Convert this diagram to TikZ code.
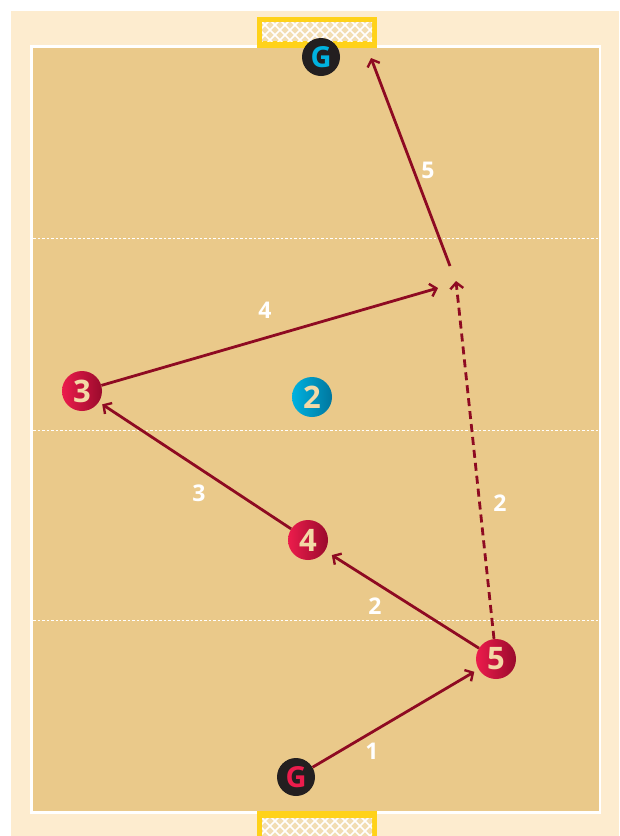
\documentclass[tikz,border=0pt]{standalone}
\usepackage{fontspec}
\setmainfont{Open Sans}
\usetikzlibrary{arrows.meta,positioning,calc}
\definecolor{cream}{HTML}{FDECCF}
\definecolor{court}{HTML}{EAC98A}
\definecolor{netBg}{HTML}{F2DDB2}
\definecolor{goalYel}{HTML}{FFD21A}
\definecolor{passRed}{HTML}{8E0A22}
\definecolor{redL}{HTML}{EC1C4C}
\definecolor{redR}{HTML}{9A0A2C}
\definecolor{cyanL}{HTML}{00B2E0}
\definecolor{cyanR}{HTML}{00769E}
\definecolor{numBeige}{HTML}{F3D9A6}
\definecolor{gkBlack}{HTML}{231F20}

\begin{document}
\begin{tikzpicture}[x=1pt,y=-1pt,
    player/.style={circle,inner sep=0pt,minimum size=40pt,font=\fontsize{31}{31}\selectfont\bfseries},
    attack/.style={player,shading=axis,left color=redL,right color=redR,text=numBeige},
    defend/.style={player,shading=axis,left color=cyanL,right color=cyanR,text=numBeige},
    keeper/.style={player,fill=gkBlack,minimum size=38pt,font=\fontsize{29}{29}\selectfont\bfseries},
    pass/.style={draw=passRed,line width=2.8pt,-{Straight Barb[length=6pt,width=13pt,line width=2.4pt]}},
    lbl/.style={text=white,font=\fontsize{23}{23}\selectfont\bfseries,inner sep=0pt}]
  \useasboundingbox (0,0) rectangle (619,836);
  \fill[white] (0,0) rectangle (619,836);
  \fill[cream] (11,11) rectangle (619,836);
  % court
  \fill[court] (31.5,46.5) rectangle (600,812.5);
  \draw[white,line width=2.6pt] (31.5,46.5) rectangle (600,812.5);
  \foreach \yy in {238,430,620}
    \draw[white,line width=0.9pt,dash pattern=on 2.5pt off 2pt] (33,\yy) -- (599,\yy);
  % goals
  \foreach \ya/\yb/\na/\nb in {17/48/22/41, 811/840/818/840} {
    \fill[goalYel] (257,\ya) rectangle (377,\yb);
    \fill[netBg] (262,\na) rectangle (372,\nb);
    \begin{scope}
      \clip (262,\na) rectangle (372,\nb);
      \foreach \xx in {230,240,...,410} {
        \draw[white,line width=1.6pt] (\xx,\na-2) -- ++(30,30);
        \draw[white,line width=1.6pt] (\xx,\na-2) -- ++(-30,30);
      }
    \end{scope}
  }
  % players
  \node[keeper,text=cyanL] (gkTop) at (321,57) {G};
  \node[keeper,text=redL] (gkBot) at (296,777) {G};
  \node[attack] (p3) at (82,391) {3};
  \node[defend] (p2) at (312,397) {2};
  \node[attack] (p4) at (308,540) {4};
  \node[attack] (p5) at (496,659) {5};
  \coordinate (end4) at (438,288);
  \coordinate (endD) at (456,281);
  \coordinate (start5) at (450,266);
  \coordinate (end5) at (371,58);
  % passes
  \draw[pass,shorten >=5pt] (gkBot) -- (p5);
  \draw[pass,shorten >=8pt] (p5) -- (p4);
  \draw[pass,shorten >=4pt] (p4) -- (p3);
  \draw[pass] (p3) -- (end4);
  \draw[pass,dash pattern=on 8pt off 5pt] (p5.north) ++(-2,0) -- (endD);
  \draw[pass] (start5) -- (end5);
  % pass numbers
  \node[lbl] (n1) at (372,751) {1};
  \node[lbl] (n2a) at (375,606) {2};
  \node[lbl] (n2b) at (500,503) {2};
  \node[lbl] (n3) at (199,493) {3};
  \node[lbl] (n4) at (265,310) {4};
  \node[lbl] (n5) at (428,170) {5};
\end{tikzpicture}
\end{document}
